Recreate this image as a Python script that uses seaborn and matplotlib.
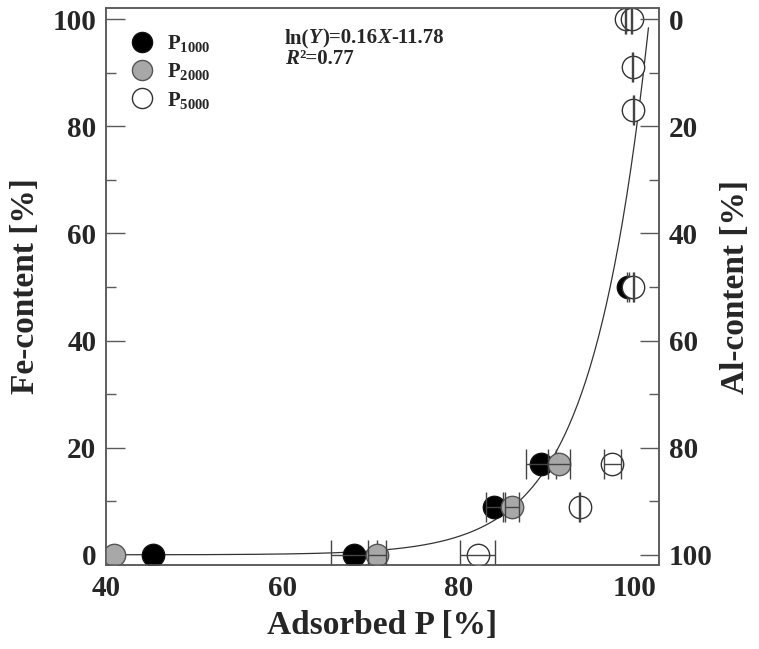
import numpy as np
import pandas as pd
import matplotlib
matplotlib.use("Agg")
import matplotlib.pyplot as plt
import seaborn as sns
from matplotlib.lines import Line2D
from matplotlib.offsetbox import TextArea, HPacker, VPacker, AnchoredOffsetbox
from matplotlib.ticker import MultipleLocator

# ---------------- data ----------------
p1000_x = [45.3, 68.2, 84.1, 89.4, 99.3]
p1000_y = [0, 0, 9, 17, 50]
p1000_err = [0.0, 2.6, 1.0, 1.7, 0.1]

p2000_x = [40.9, 70.8, 86.1, 91.4]
p2000_y = [0, 0, 9, 17]
p2000_err = [0.0, 1.0, 0.75, 1.25]

p5000_x = [82.2, 93.8, 97.5, 99.9, 99.9, 99.8, 99.0, 99.7]
p5000_y = [0, 9, 17, 50, 83, 91, 100, 100]
p5000_err = [2.0, 0.05, 1.0, 0.05, 0.05, 0.05, 0.05, 0.05]

fit_slope = 0.1557      # slope of drawn fit line  ln(Y) = a*X + b
fit_intercept = -11.23
fit_x_range = [40.0, 101.6]

legend_labels = ["1000", "2000", "5000"]
x_ticks = [40, 60, 80, 100]
y_ticks = [0, 20, 40, 60, 80, 100]

# ---------------- style ----------------
sns.set_theme(style="white")
plt.rcParams["font.family"] = ["Liberation Serif", "DejaVu Serif"]
plt.rcParams["font.weight"] = "bold"
plt.rcParams["mathtext.fontset"] = "custom"
plt.rcParams["mathtext.rm"] = "Liberation Serif:bold"
plt.rcParams["mathtext.bf"] = "Liberation Serif:bold"
plt.rcParams["mathtext.it"] = "Liberation Serif:italic:bold"

spine_col = "#5a5a5a"
fig = plt.figure(figsize=(7.59, 6.49), dpi=100)
ax = fig.add_axes([106/759, 1-565/649, (659-106)/759, (565-8)/649])

series = [
    (p1000_x, p1000_y, p1000_err, "black", "#111111"),
    (p2000_x, p2000_y, p2000_err, "#a8a8a8", "#555555"),
    (p5000_x, p5000_y, p5000_err, "white", "#333333"),
]

# fit curve
xf = np.linspace(fit_x_range[0], fit_x_range[1], 400)
fit_df = pd.DataFrame({"x": xf, "y": np.exp(fit_slope * xf + fit_intercept)})
sns.lineplot(data=fit_df, x="x", y="y", ax=ax, color="#333333", lw=0.9, zorder=2)

z = 3
for xs, ys, es, fc, ec in series:
    df = pd.DataFrame({"x": xs, "y": ys, "err": es})
    sns.scatterplot(data=df, x="x", y="y", ax=ax, s=260, color=fc,
                    edgecolor=ec, linewidth=1.0, zorder=z, legend=False)
    de = df[df["err"] > 0]
    ax.errorbar(de["x"], de["y"], xerr=de["err"], fmt="none", ecolor="#444444",
                elinewidth=1.0, capsize=11, capthick=1.0, zorder=z + 1)
    z += 2

ax.set_xlim(40, 102.8)
ax.set_ylim(-1.9, 102.1)
ax.set_xticks(x_ticks)
ax.set_yticks(y_ticks)
ax.xaxis.set_minor_locator(MultipleLocator(10))
ax.yaxis.set_minor_locator(MultipleLocator(10))
ax.tick_params(axis="both", which="major", direction="in", length=14, width=1.0,
               color=spine_col, labelsize=21, pad=7)
ax.tick_params(axis="both", which="minor", direction="in", length=7.5, width=1.0,
               color=spine_col)
ax.tick_params(axis="x", top=False, which="both")
for lab in ax.get_xticklabels() + ax.get_yticklabels():
    lab.set_fontweight("bold")
for s in ax.spines.values():
    s.set_color(spine_col)
    s.set_linewidth(1.1)

ax.set_xlabel("Adsorbed P [%]", fontsize=24, fontweight="bold", labelpad=6)
ax.set_ylabel("Fe-content [%]", fontsize=24, fontweight="bold", labelpad=8)

# right axis: Al-content = 100 - Fe
ax2 = ax.twinx()
lo, hi = ax.get_ylim()
ax2.set_ylim(100 - lo, 100 - hi)
ax2.set_yticks(y_ticks)
ax2.yaxis.set_minor_locator(MultipleLocator(10))
ax2.tick_params(axis="y", which="major", direction="in", length=14, width=1.0,
                color=spine_col, labelsize=21, pad=7)
ax2.tick_params(axis="y", which="minor", direction="in", length=7.5, width=1.0,
                color=spine_col)
for lab in ax2.get_yticklabels():
    lab.set_fontweight("bold")
for s in ax2.spines.values():
    s.set_color(spine_col)
    s.set_linewidth(1.1)
ax2.set_ylabel("Al-content [%]", fontsize=24, fontweight="bold", labelpad=5)
ax2.grid(False)
ax.grid(False)

# legend
handles = [
    Line2D([], [], ls="", marker="o", markersize=14.5, markerfacecolor=fc,
           markeredgecolor=ec, markeredgewidth=1.0)
    for (_, _, _, fc, ec) in series
]
labels = [r"P$_{\mathbf{%s}}$" % l for l in legend_labels]
leg = ax.legend(handles, labels, loc="upper left",
                bbox_to_anchor=(125/759, 1-33/649), bbox_transform=fig.transFigure,
                frameon=False, fontsize=15, handletextpad=0.4, labelspacing=0.35,
                borderaxespad=0.0, borderpad=0.0, handlelength=1.6)
for t in leg.get_texts():
    t.set_fontweight("bold")

# equation annotation
fs = 15
def ta(txt, style="normal"):
    return TextArea(txt, textprops=dict(fontsize=fs, fontweight="bold",
                                        fontstyle=style, family="Liberation Serif"))
line1 = HPacker(children=[ta("ln("), ta("Y", "italic"), ta(")=0.16"), ta("X", "italic"),
                          ta("-11.78")], sep=0, pad=0, align="baseline")
line2 = HPacker(children=[ta("R", "italic"), ta("²=0.77")], sep=0, pad=0,
                align="baseline")
box = VPacker(children=[line1, line2], sep=1, pad=0, align="left")
anc = AnchoredOffsetbox(loc="upper left", child=box, frameon=False,
                        bbox_to_anchor=(285/759, 1-28/649),
                        bbox_transform=fig.transFigure, borderpad=0, pad=0)
ax.add_artist(anc)

fig.savefig("out.png", dpi=100)
